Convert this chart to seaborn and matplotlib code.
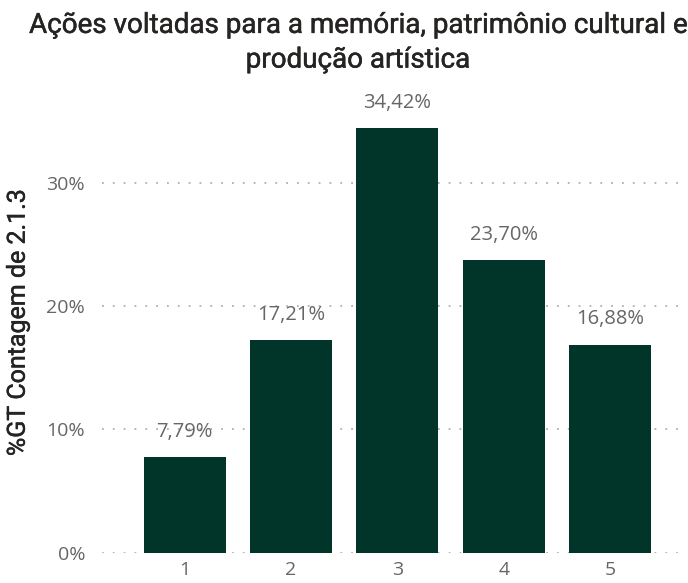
import matplotlib
matplotlib.use("Agg")
import matplotlib.pyplot as plt
import matplotlib.patheffects as pe
import seaborn as sns
import pandas as pd

categories = ["1", "2", "3", "4", "5"]
values = [7.79, 17.21, 34.42, 23.70, 16.88]
labels = ["7,79%", "17,21%", "34,42%", "23,70%", "16,88%"]
yticks = [0, 10, 20, 30]
yticklabels = ["0%", "10%", "20%", "30%"]

sns.set_theme(style="white")
plt.rcParams["font.family"] = ["Open Sans", "DejaVu Sans"]

df = pd.DataFrame({"cat": categories, "val": values})

fig = plt.figure(figsize=(6.88, 5.83), dpi=100)
ax = fig.add_axes([0.148, 0.0515, 0.85, 0.79])
sns.barplot(data=df, x="cat", y="val", color="#02352a", saturation=1, width=0.77,
            linewidth=0, ax=ax)

ax.set_xlim(-0.78, 4.72)
ax.set_ylim(0, 37.3)
ax.set_yticks(yticks)
ax.set_yticklabels(yticklabels)
for y in yticks:
    ax.axhline(y, color="#b0b0b0", linestyle=(0, (1, 5)), linewidth=1.3, zorder=0)
for s in ax.spines.values():
    s.set_visible(False)
ax.tick_params(axis="both", length=0, labelsize=14, labelcolor="#666666")
ax.tick_params(axis="y", pad=12)
ax.tick_params(axis="x", pad=6)
ax.set_xlabel("")
stroke = [pe.withStroke(linewidth=0.35, foreground="#252423")]
ylab = ax.set_ylabel("%GT Contagem de 2.1.3", fontsize=18, color="#252423", labelpad=12,
                     family=["Roboto", "DejaVu Sans"])
ylab.set_path_effects(stroke)

for i, (v, l) in enumerate(zip(values, labels)):
    ax.annotate(l, (i, v), xytext=(0, 11), textcoords="offset points",
                ha="center", va="bottom", fontsize=14.5, color="#666666")

t = fig.suptitle("Ações voltadas para a memória, patrimônio cultural e\nprodução artística",
                 x=0.52, y=0.98, fontsize=20, color="#252423", linespacing=1.35,
                 family=["Roboto", "DejaVu Sans"])
t.set_path_effects(stroke)

fig.savefig("out.png", dpi=100)
